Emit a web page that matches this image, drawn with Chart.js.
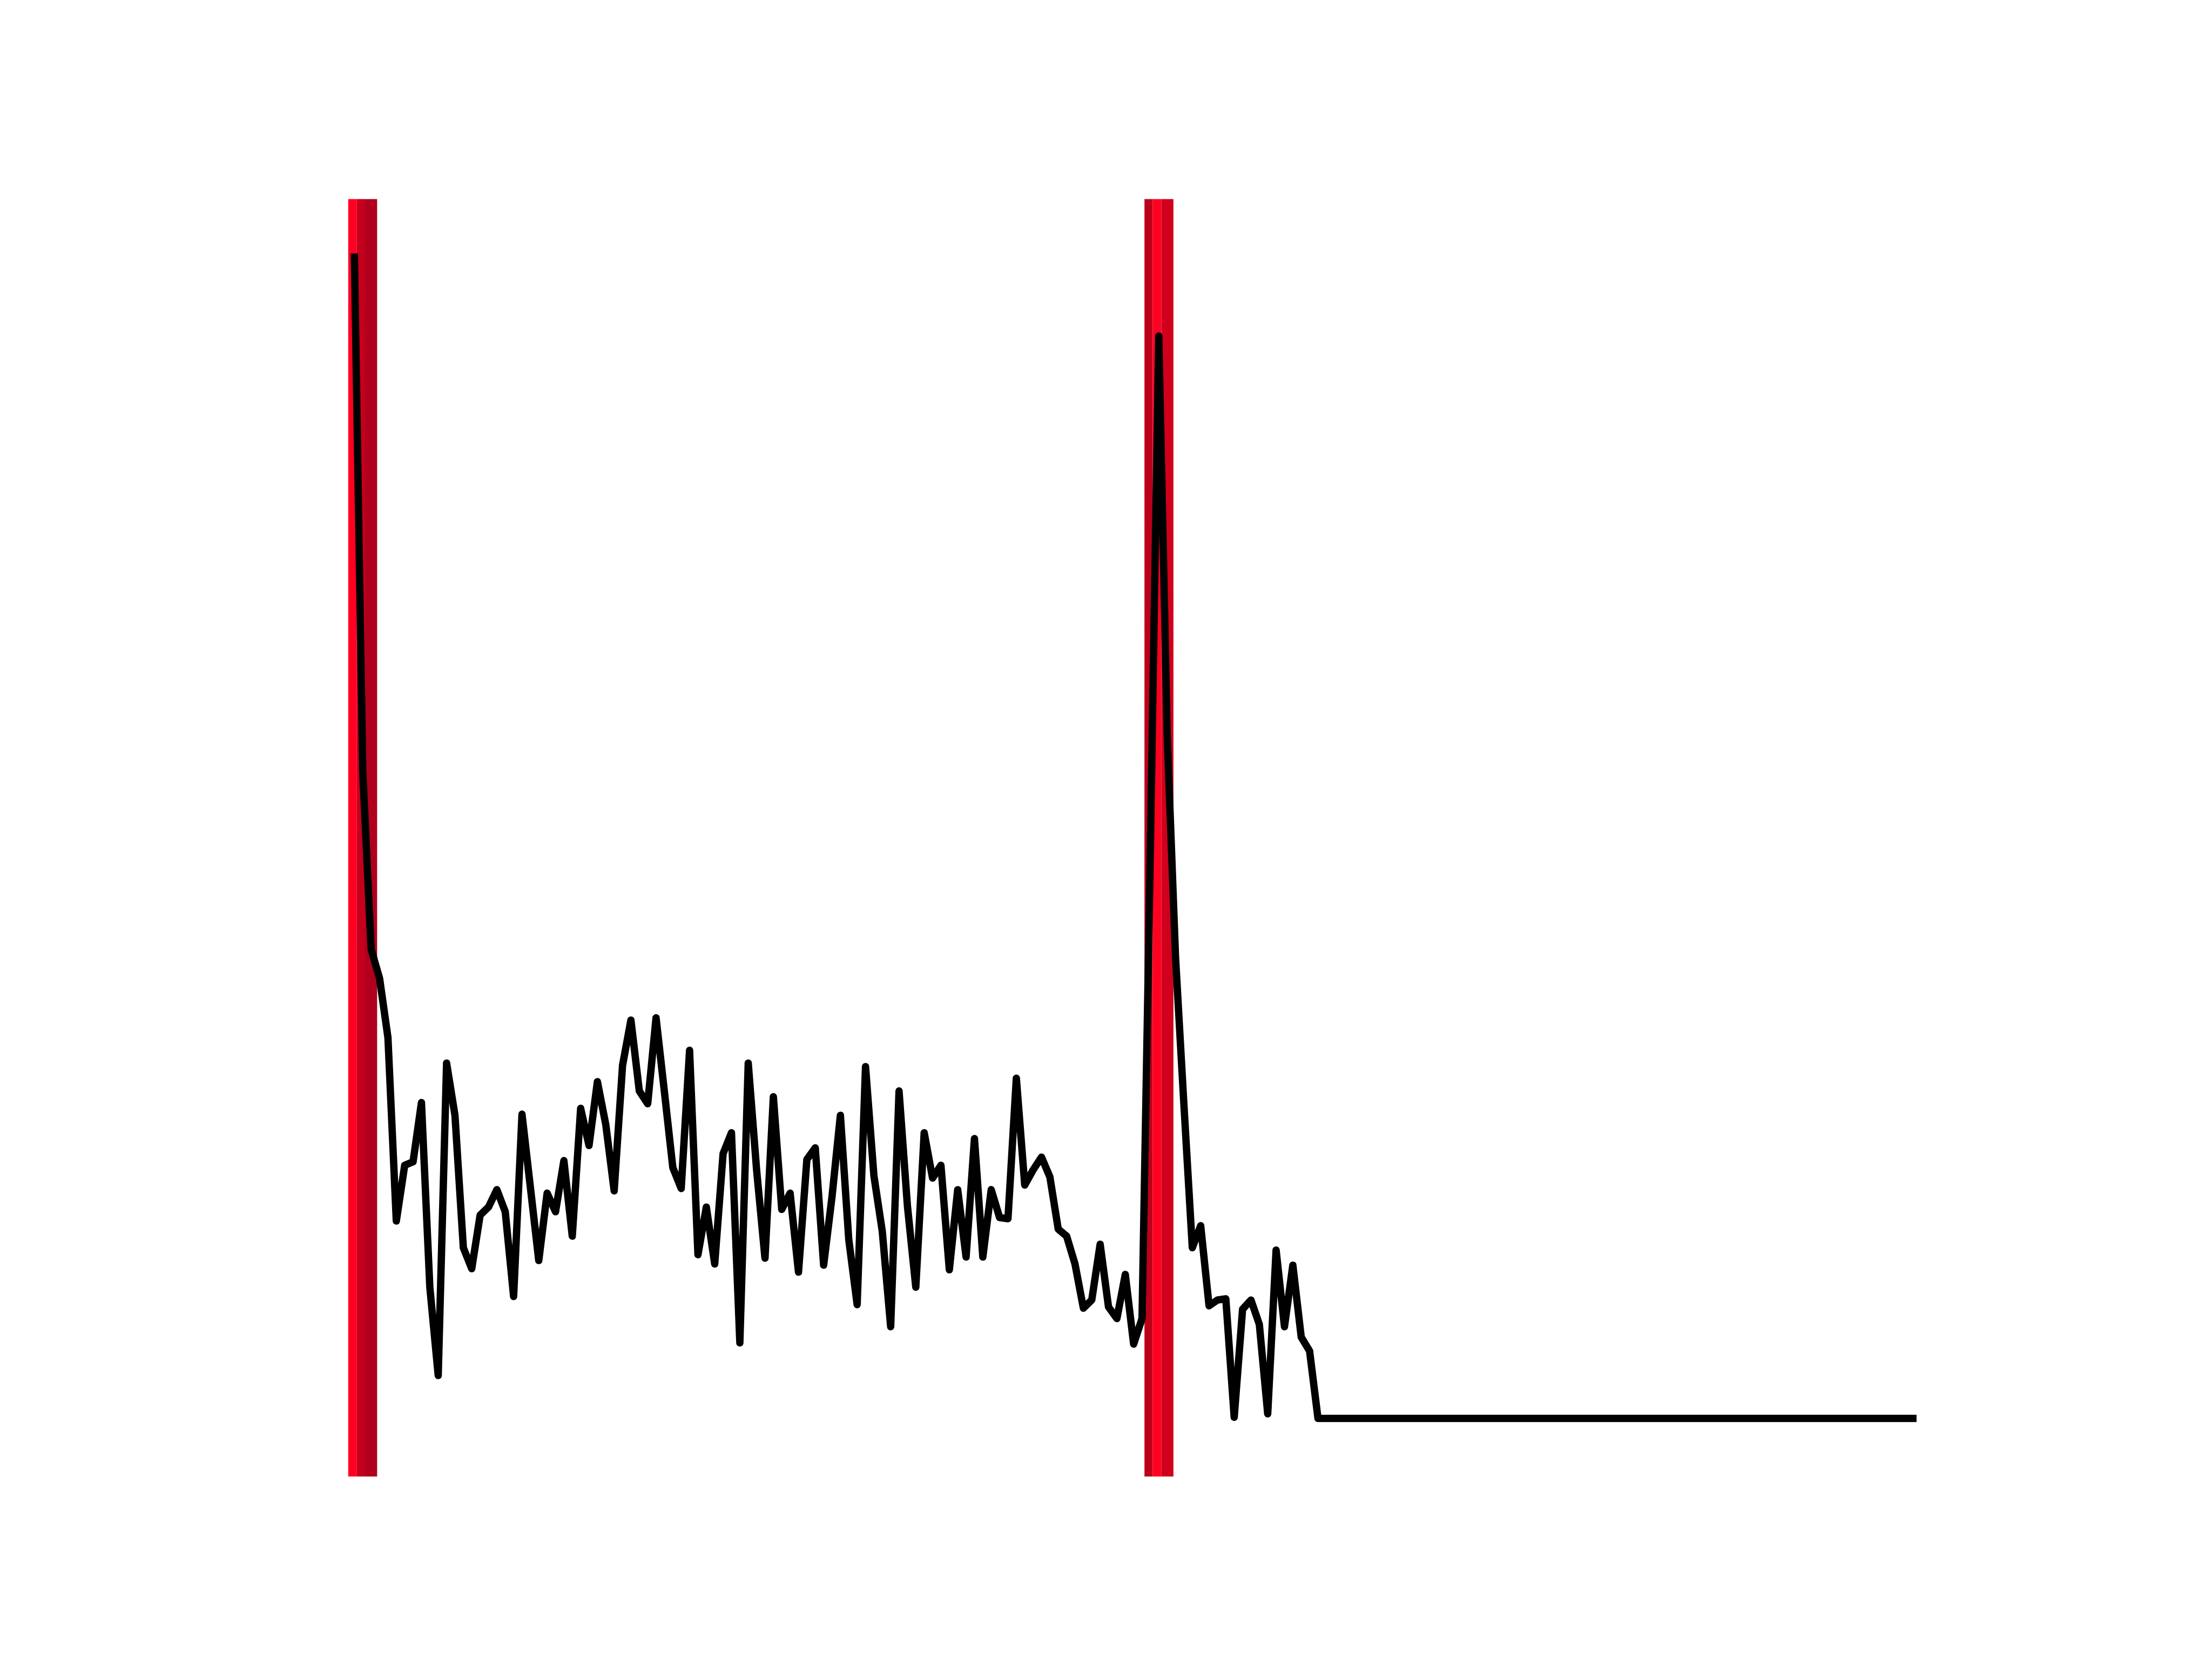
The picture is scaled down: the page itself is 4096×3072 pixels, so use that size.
<!DOCTYPE html>
<html>
<head>
<meta charset="utf-8">
<script src="https://cdn.jsdelivr.net/npm/chart.js@4/dist/chart.umd.min.js"></script>
<style>
  html, body { margin: 0; padding: 0; background: #ffffff; }
  #c { display: block; }
</style>
</head>
<body>
<canvas id="c" width="4096" height="3072"></canvas>
<script>
// ---- data ----
const values = [
  100, 55.6, 40.4, 37.9, 32.8, 17.0, 21.8, 22.1, 27.2, 11.3,
  3.7, 30.6, 26.1, 14.7, 12.9, 17.5, 18.2, 19.7, 17.8, 10.5,
  26.2, 19.9, 13.6, 19.4, 17.8, 22.2, 15.7, 26.7, 23.5, 29.0,
  25.3, 19.6, 30.4, 34.3, 28.2, 27.1, 34.5, 28.1, 21.6, 19.8,
  31.7, 14.1, 18.2, 13.3, 22.8, 24.6, 6.5, 30.6, 21.4, 13.8,
  27.7, 18.0, 19.4, 12.6, 22.3, 23.3, 13.2, 19.1, 26.1, 15.4,
  9.8, 30.3, 20.9, 16.1, 7.9, 28.2, 18.3, 11.3, 24.6, 20.7,
  21.8, 12.8, 19.7, 13.9, 24.1, 13.9, 19.7, 17.3, 17.2, 29.3,
  20.1, 21.4, 22.5, 20.8, 16.3, 15.7, 13.3, 9.5, 10.2, 15.0,
  9.6, 8.6, 12.4, 6.4, 8.6, 49.2, 93.2, 58.9, 39.7, 27.0,
  14.7, 16.6, 9.7, 10.2, 10.3, 0.1, 9.4, 10.2, 8.1, 0.4,
  14.5, 7.9, 13.2, 7.0, 5.8, 0, 0, 0, 0, 0,
  0, 0, 0, 0, 0, 0, 0, 0, 0, 0,
  0, 0, 0, 0, 0, 0, 0, 0, 0, 0,
  0, 0, 0, 0, 0, 0, 0, 0, 0, 0,
  0, 0, 0, 0, 0, 0, 0, 0, 0, 0,
  0, 0, 0, 0, 0, 0, 0, 0, 0, 0,
  0, 0, 0, 0, 0, 0, 0, 0, 0, 0,
  0, 0, 0, 0, 0, 0, 0
];
// highlighted spans (x in sample-index units), drawn as stripes
const bandStarts = [-0.74, 0.29, 1.27, 94.29, 95.27, 96.30];
const bandEnds   = [ 0.29, 1.27, 2.71, 95.27, 96.30, 97.75];
const bandColors = ['#FF0022', '#C4001C', '#B0001E', '#BC001A', '#FF0020', '#D0001D'];

// ---- chart ----
const n = values.length;
const points = values.map((v, i) => ({ x: i, y: v }));
const xPad = (n - 1) * 0.05;
const yPad = 100 * 0.05;

const bandPlugin = {
  id: 'bands',
  beforeDatasetsDraw(chart) {
    const { ctx, chartArea, scales } = chart;
    ctx.save();
    for (let k = 0; k < bandStarts.length; k++) {
      const x0 = scales.x.getPixelForValue(bandStarts[k]);
      const x1 = scales.x.getPixelForValue(bandEnds[k]);
      ctx.fillStyle = bandColors[k];
      ctx.fillRect(x0, chartArea.top, x1 - x0, chartArea.bottom - chartArea.top);
    }
    ctx.restore();
  }
};

const W = 4096, H = 3072;
new Chart(document.getElementById('c'), {
  type: 'line',
  data: {
    datasets: [{
      data: points,
      borderColor: '#000000',
      borderWidth: 13.6,
      borderJoinStyle: 'round',
      borderCapStyle: 'square',
      pointRadius: 0,
      tension: 0,
      fill: false
    }]
  },
  options: {
    responsive: false,
    animation: false,
    devicePixelRatio: 1,
    layout: {
      padding: { left: W * 0.125, right: W * 0.1, top: H * 0.12, bottom: H * 0.11 }
    },
    plugins: { legend: { display: false }, tooltip: { enabled: false } },
    scales: {
      x: { type: 'linear', display: false, min: -xPad, max: (n - 1) + xPad },
      y: { type: 'linear', display: false, min: -yPad, max: 100 + yPad }
    }
  },
  plugins: [bandPlugin]
});
</script>
</body>
</html>
